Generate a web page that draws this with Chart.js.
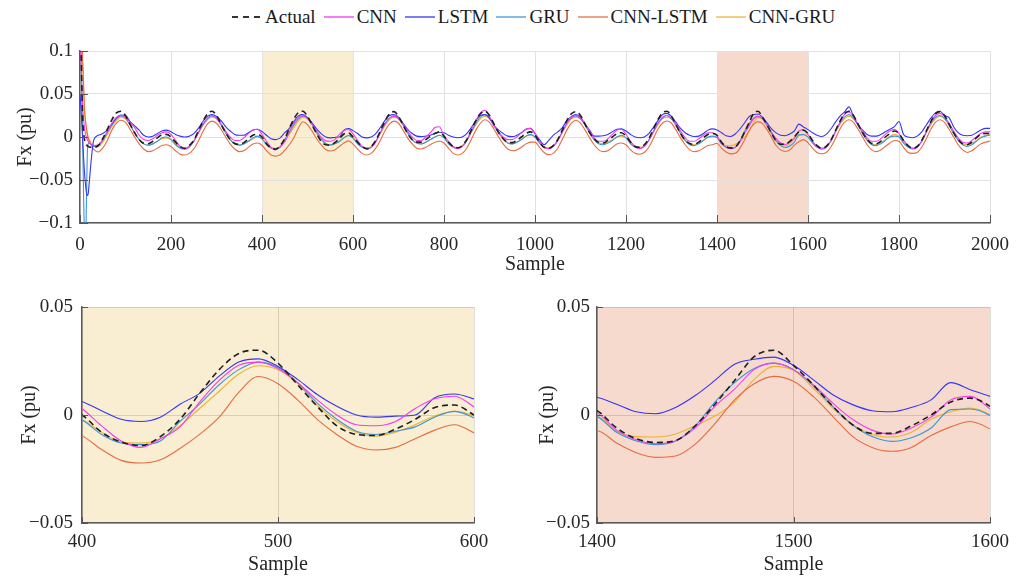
<!DOCTYPE html>
<html lang="en">
<head>
<meta charset="UTF-8">
<title>Fx prediction comparison</title>
<script src="https://cdn.jsdelivr.net/npm/chart.js"></script>
<style>
  body { margin: 0; background: #fff; font-family: 'Liberation Serif', 'Times New Roman', serif; }
  #page { position: relative; width: 1022px; height: 579px; overflow: hidden; }
  .box { position: absolute; }
  #legend { position: absolute; top: 6px; left: 232px; display: flex; align-items: center; font-size: 19px; color: #1a1a1a; white-space: nowrap; }
  .item { display: flex; align-items: center; margin-right: 8px; }
  .swatch { width: 30px; height: 2px; margin-right: 3px; }
</style>
</head>
<body>
<div id="page">
  <div id="legend"></div>
  <div class="box" style="left:0;top:40px;width:1022px;height:245px"><canvas id="topChart"></canvas></div>
  <div class="box" style="left:0;top:290px;width:520px;height:289px"><canvas id="zoomA"></canvas></div>
  <div class="box" style="left:520px;top:290px;width:502px;height:289px"><canvas id="zoomB"></canvas></div>
</div>

<script>
// sample positions (dense at the start transient, then every 10)
const samples = [
  0, 2, 4, 6, 8, 10, 12, 14, 16, 18, 20, 25,
  30, 40, 50, 60, 70, 80, 90, 100, 110, 120, 130, 140, 150, 160, 170, 180, 190,
  200, 210, 220, 230, 240, 250, 260, 270, 280, 290, 300, 310, 320, 330, 340, 350, 360, 370, 380, 390,
  400, 410, 420, 430, 440, 450, 460, 470, 480, 490, 500, 510, 520, 530, 540, 550, 560, 570, 580, 590,
  600, 610, 620, 630, 640, 650, 660, 670, 680, 690, 700, 710, 720, 730, 740, 750, 760, 770, 780, 790,
  800, 810, 820, 830, 840, 850, 860, 870, 880, 890, 900, 910, 920, 930, 940, 950, 960, 970, 980, 990,
  1000, 1010, 1020, 1030, 1040, 1050, 1060, 1070, 1080, 1090, 1100, 1110, 1120, 1130, 1140, 1150, 1160, 1170, 1180, 1190,
  1200, 1210, 1220, 1230, 1240, 1250, 1260, 1270, 1280, 1290, 1300, 1310, 1320, 1330, 1340, 1350, 1360, 1370, 1380, 1390,
  1400, 1410, 1420, 1430, 1440, 1450, 1460, 1470, 1480, 1490, 1500, 1510, 1520, 1530, 1540, 1550, 1560, 1570, 1580, 1590,
  1600, 1610, 1620, 1630, 1640, 1650, 1660, 1670, 1680, 1690, 1700, 1710, 1720, 1730, 1740, 1750, 1760, 1770, 1780, 1790,
  1800, 1810, 1820, 1830, 1840, 1850, 1860, 1870, 1880, 1890, 1900, 1910, 1920, 1930, 1940, 1950, 1960, 1970, 1980, 1990,
  2000
];

const actual = [
  0.20, 0.12, 0.06, 0.02, 0.005, -0.003, -0.007, -0.009, -0.010, -0.011, -0.0115, -0.012,
  -0.012, -0.010, -0.002, 0.009, 0.020, 0.028, 0.030, 0.025, 0.015, 0.005, -0.003, -0.0072, -0.0078, -0.005, -0.001, 0.0025, 0.003,
  0.000, -0.006, -0.011, -0.0132, -0.010, -0.004, 0.007, 0.018, 0.027, 0.030, 0.025, 0.015, 0.005, -0.003, -0.0075, -0.0085, -0.0065, -0.002, 0.002, 0.003,
  0.000, -0.008, -0.0125, -0.0142, -0.010, -0.002, 0.010, 0.021, 0.0285, 0.030, 0.024, 0.014, 0.004, -0.005, -0.009, -0.0095, -0.0065, -0.002, 0.0035, 0.0046,
  0.000, -0.006, -0.011, -0.0135, -0.011, -0.004, 0.007, 0.018, 0.027, 0.0295, 0.024, 0.014, 0.004, -0.003, -0.006, -0.006, -0.003, 0.001, 0.004, 0.006,
  0.001, -0.006, -0.011, -0.0125, -0.010, -0.003, 0.008, 0.019, 0.027, 0.030, 0.025, 0.015, 0.005, -0.002, -0.006, -0.0065, -0.004, 0.000, 0.004, 0.006,
  0.002, -0.006, -0.012, -0.013, -0.010, -0.003, 0.008, 0.019, 0.027, 0.0295, 0.025, 0.015, 0.005, -0.002, -0.0065, -0.007, -0.004, 0.000, 0.004, 0.005,
  0.001, -0.006, -0.011, -0.012, -0.009, -0.002, 0.009, 0.020, 0.028, 0.030, 0.024, 0.014, 0.004, -0.004, -0.0075, -0.0085, -0.006, -0.001, 0.003, 0.004,
  0.002, -0.006, -0.011, -0.0127, -0.0118, -0.005, 0.005, 0.016, 0.027, 0.030, 0.023, 0.014, 0.004, -0.0045, -0.0085, -0.0085, -0.005, 0.000, 0.006, 0.0078,
  0.004, -0.004, -0.010, -0.013, -0.011, -0.004, 0.007, 0.018, 0.027, 0.030, 0.025, 0.015, 0.005, -0.003, -0.0075, -0.008, -0.005, 0.000, 0.004, 0.007,
  0.004, -0.004, -0.010, -0.013, -0.011, -0.004, 0.007, 0.018, 0.027, 0.0295, 0.025, 0.015, 0.005, -0.003, -0.008, -0.009, -0.006, -0.001, 0.003, 0.004,
  0.004
];

const cnn = [
  0.12, 0.09, 0.06, 0.035, 0.02, 0.01, 0.004, 0.000, -0.003, -0.005, -0.007, -0.009,
  -0.010, -0.009, -0.003, 0.006, 0.016, 0.023, 0.025, 0.023, 0.017, 0.011, 0.002, -0.003, -0.004, -0.002, 0.002, 0.005, 0.006,
  0.003, -0.004, -0.011, -0.014, -0.011, -0.005, 0.005, 0.015, 0.022, 0.025, 0.022, 0.015, 0.007, 0.000, -0.004, -0.004, -0.001, 0.004, 0.008, 0.009,
  0.003, -0.005, -0.012, -0.015, -0.011, -0.0055, 0.006, 0.016, 0.023, 0.0245, 0.0215, 0.015, 0.007, 0.000, -0.0045, -0.005, -0.003, 0.003, 0.0075, 0.0087,
  0.0037, -0.004, -0.011, -0.014, -0.012, -0.006, 0.005, 0.015, 0.022, 0.024, 0.022, 0.015, 0.007, 0.000, -0.004, -0.004, 0.000, 0.005, 0.011, 0.012,
  0.001, -0.005, -0.011, -0.0135, -0.011, -0.004, 0.008, 0.019, 0.028, 0.031, 0.024, 0.013, 0.006, 0.000, -0.003, -0.003, 0.000, 0.005, 0.009, 0.010,
  0.004, -0.005, -0.012, -0.0135, -0.011, -0.004, 0.006, 0.016, 0.023, 0.025, 0.022, 0.015, 0.007, -0.001, -0.005, -0.005, -0.002, 0.003, 0.008, 0.009,
  0.003, -0.005, -0.011, -0.0135, -0.011, -0.004, 0.006, 0.016, 0.023, 0.025, 0.022, 0.015, 0.007, -0.001, -0.005, -0.005, -0.002, 0.002, 0.005, 0.005,
  0.0012, -0.007, -0.0115, -0.0133, -0.012, -0.006, 0.004, 0.012, 0.021, 0.024, 0.021, 0.014, 0.0055, -0.002, -0.007, -0.0088, -0.006, -0.001, 0.007, 0.0086,
  0.0028, -0.005, -0.011, -0.014, -0.012, -0.005, 0.006, 0.017, 0.026, 0.029, 0.024, 0.015, 0.007, -0.001, -0.005, -0.005, -0.002, 0.003, 0.007, 0.009,
  0.004, -0.004, -0.010, -0.0135, -0.012, -0.005, 0.006, 0.017, 0.025, 0.0275, 0.024, 0.016, 0.007, -0.001, -0.006, -0.007, -0.004, 0.000, 0.004, 0.006,
  0.006
];

const lstm = [
  0.05, 0.035, 0.015, -0.005, -0.025, -0.042, -0.055, -0.064, -0.068, -0.066, -0.055, -0.025,
  -0.004, 0.002, 0.004, 0.008, 0.015, 0.022, 0.0256, 0.025, 0.018, 0.013, 0.008, 0.002, 0.000, 0.001, 0.004, 0.007, 0.008,
  0.006, 0.003, 0.001, 0.000, 0.001, 0.004, 0.010, 0.018, 0.024, 0.026, 0.024, 0.019, 0.012, 0.007, 0.003, 0.002, 0.002, 0.005, 0.008, 0.009,
  0.0063, 0.002, -0.002, -0.003, -0.001, 0.005, 0.010, 0.018, 0.0245, 0.026, 0.0225, 0.0165, 0.0095, 0.004, 0.000, -0.001, -0.0005, 0.000, 0.008, 0.0097,
  0.0074, 0.004, 0.000, -0.001, 0.000, 0.004, 0.011, 0.019, 0.025, 0.026, 0.023, 0.016, 0.009, 0.004, 0.001, 0.0004, 0.001, 0.002, 0.004, 0.0055,
  0.005, 0.002, 0.000, -0.0008, 0.000, 0.004, 0.011, 0.019, 0.025, 0.026, 0.022, 0.013, 0.008, 0.004, 0.001, 0.0004, 0.002, 0.005, 0.009, 0.010,
  0.004, -0.003, -0.009, -0.004, 0.002, 0.006, 0.011, 0.019, 0.024, 0.026, 0.023, 0.015, 0.008, 0.001, 0.001, 0.0015, 0.003, 0.006, 0.009, 0.0095,
  0.007, 0.003, 0.000, -0.0008, 0.000, 0.004, 0.011, 0.019, 0.026, 0.0275, 0.024, 0.017, 0.010, 0.005, 0.002, 0.0005, 0.001, 0.004, 0.008, 0.0095,
  0.0082, 0.005, 0.0015, 0.0006, 0.0035, 0.009, 0.016, 0.0235, 0.0258, 0.0268, 0.023, 0.0164, 0.0094, 0.0048, 0.002, 0.0015, 0.0035, 0.007, 0.015, 0.0117,
  0.0086, 0.005, 0.002, 0.0005, 0.003, 0.009, 0.017, 0.024, 0.029, 0.035, 0.024, 0.014, 0.008, 0.003, 0.001, 0.001, 0.003, 0.006, 0.009, 0.012,
  0.018, 0.003, 0.000, -0.0008, 0.001, 0.006, 0.014, 0.022, 0.028, 0.030, 0.025, 0.0225, 0.012, 0.005, 0.002, 0.0015, 0.002, 0.005, 0.008, 0.010,
  0.010
];

const gru = [
  0.14, 0.10, 0.05, -0.01, -0.07, -0.12, -0.13, -0.08, -0.02, -0.008, -0.007, -0.009,
  -0.011, -0.010, -0.004, 0.005, 0.014, 0.021, 0.0245, 0.022, 0.014, 0.005, -0.003, -0.008, -0.0095, -0.008, -0.005, -0.001, 0.000,
  -0.003, -0.009, -0.013, -0.014, -0.012, -0.005, 0.005, 0.014, 0.021, 0.0245, 0.022, 0.014, 0.005, -0.003, -0.008, -0.0095, -0.008, -0.005, -0.001, 0.001,
  -0.0022, -0.009, -0.013, -0.0137, -0.012, -0.003, 0.005, 0.014, 0.021, 0.0245, 0.022, 0.015, 0.0055, -0.002, -0.0075, -0.009, -0.0075, -0.0055, -0.001, 0.0017,
  -0.0014, -0.008, -0.012, -0.014, -0.012, -0.005, 0.005, 0.015, 0.022, 0.0245, 0.021, 0.014, 0.005, -0.003, -0.007, -0.008, -0.006, -0.003, 0.000, 0.002,
  -0.001, -0.008, -0.012, -0.0135, -0.011, -0.004, 0.006, 0.016, 0.023, 0.026, 0.022, 0.014, 0.005, -0.002, -0.007, -0.008, -0.006, -0.003, 0.001, 0.003,
  0.000, -0.007, -0.012, -0.0135, -0.011, -0.004, 0.006, 0.016, 0.022, 0.0245, 0.021, 0.014, 0.005, -0.003, -0.008, -0.009, -0.007, -0.004, 0.000, 0.002,
  -0.001, -0.008, -0.012, -0.013, -0.011, -0.004, 0.006, 0.016, 0.022, 0.025, 0.021, 0.014, 0.004, -0.004, -0.009, -0.010, -0.008, -0.004, 0.000, 0.001,
  -0.0006, -0.008, -0.012, -0.0137, -0.012, -0.005, 0.006, 0.015, 0.0215, 0.024, 0.021, 0.0136, 0.004, -0.0045, -0.010, -0.0122, -0.0105, -0.006, 0.0025, 0.0028,
  -0.0002, -0.007, -0.012, -0.014, -0.012, -0.005, 0.006, 0.016, 0.023, 0.026, 0.022, 0.014, 0.004, -0.004, -0.009, -0.010, -0.008, -0.004, 0.000, 0.001,
  0.000, -0.007, -0.012, -0.014, -0.012, -0.005, 0.006, 0.016, 0.023, 0.025, 0.022, 0.014, 0.004, -0.004, -0.009, -0.011, -0.009, -0.005, -0.001, 0.001,
  0.002
];

const cnnLstm = [
  0.16, 0.14, 0.115, 0.09, 0.06, 0.032, 0.02, 0.011, 0.004, -0.001, -0.004, -0.010,
  -0.014, -0.0175, -0.013, -0.004, 0.008, 0.016, 0.0195, 0.017, 0.009, 0.000, -0.008, -0.014, -0.017, -0.016, -0.013, -0.010, -0.009,
  -0.011, -0.016, -0.020, -0.021, -0.019, -0.014, -0.005, 0.006, 0.015, 0.0185, 0.016, 0.009, 0.000, -0.008, -0.014, -0.017, -0.016, -0.012, -0.008, -0.007,
  -0.0096, -0.016, -0.021, -0.0222, -0.0207, -0.0155, -0.009, -0.001, 0.0105, 0.0178, 0.0145, 0.007, -0.002, -0.009, -0.0145, -0.0162, -0.015, -0.011, -0.007, -0.0045,
  -0.0083, -0.014, -0.019, -0.021, -0.019, -0.013, -0.004, 0.007, 0.015, 0.0185, 0.016, 0.008, -0.001, -0.008, -0.013, -0.014, -0.012, -0.009, -0.006, -0.005,
  -0.007, -0.013, -0.019, -0.021, -0.019, -0.013, -0.003, 0.008, 0.016, 0.020, 0.017, 0.009, 0.000, -0.008, -0.014, -0.016, -0.015, -0.012, -0.008, -0.006,
  -0.006, -0.012, -0.018, -0.0205, -0.019, -0.013, -0.003, 0.008, 0.016, 0.0195, 0.016, 0.008, -0.001, -0.009, -0.015, -0.017, -0.016, -0.012, -0.008, -0.007,
  -0.009, -0.015, -0.019, -0.020, -0.018, -0.012, -0.002, 0.009, 0.016, 0.0186, 0.016, 0.008, -0.001, -0.009, -0.015, -0.017, -0.016, -0.013, -0.010, -0.009,
  -0.0073, -0.013, -0.0175, -0.0196, -0.019, -0.0135, -0.004, 0.007, 0.0145, 0.0179, 0.0156, 0.0086, -0.0006, -0.0099, -0.015, -0.0168, -0.015, -0.0095, -0.0055, -0.003,
  -0.0065, -0.013, -0.018, -0.0195, -0.018, -0.012, -0.002, 0.009, 0.017, 0.020, 0.017, 0.009, 0.000, -0.009, -0.015, -0.017, -0.015, -0.011, -0.007, -0.004,
  -0.005, -0.012, -0.018, -0.019, -0.018, -0.012, -0.002, 0.009, 0.017, 0.020, 0.017, 0.009, 0.000, -0.009, -0.015, -0.018, -0.016, -0.012, -0.008, -0.006,
  -0.0047
];

const cnnGru = [
  0.14, 0.12, 0.10, 0.08, 0.055, 0.03, 0.018, 0.010, 0.004, 0.000, -0.003, -0.007,
  -0.0095, -0.011, -0.006, 0.003, 0.012, 0.019, 0.023, 0.021, 0.014, 0.005, -0.003, -0.008, -0.0095, -0.008, -0.005, -0.002, -0.001,
  -0.003, -0.008, -0.012, -0.013, -0.011, -0.005, 0.004, 0.013, 0.020, 0.023, 0.021, 0.014, 0.005, -0.003, -0.008, -0.0095, -0.008, -0.005, -0.002, 0.000,
  -0.0022, -0.008, -0.0125, -0.013, -0.011, -0.005, 0.003, 0.011, 0.019, 0.0228, 0.021, 0.0145, 0.0045, -0.003, -0.008, -0.0098, -0.008, -0.0045, -0.0005, 0.0017,
  -0.0006, -0.007, -0.011, -0.013, -0.011, -0.005, 0.004, 0.013, 0.020, 0.023, 0.021, 0.014, 0.005, -0.003, -0.007, -0.008, -0.006, -0.003, 0.000, 0.002,
  -0.001, -0.007, -0.011, -0.0125, -0.010, -0.004, 0.005, 0.014, 0.021, 0.024, 0.021, 0.014, 0.005, -0.002, -0.007, -0.008, -0.006, -0.003, 0.001, 0.002,
  0.000, -0.007, -0.011, -0.0125, -0.010, -0.004, 0.005, 0.014, 0.021, 0.023, 0.021, 0.014, 0.005, -0.003, -0.007, -0.008, -0.006, -0.003, 0.000, 0.001,
  -0.001, -0.007, -0.011, -0.012, -0.010, -0.004, 0.005, 0.014, 0.021, 0.023, 0.021, 0.013, 0.004, -0.004, -0.008, -0.009, -0.007, -0.004, -0.001, 0.000,
  -0.0006, -0.0075, -0.010, -0.0102, -0.0088, -0.005, -0.0005, 0.006, 0.0165, 0.0225, 0.0207, 0.0125, 0.0032, -0.0045, -0.009, -0.0102, -0.008, -0.002, 0.0015, 0.0032,
  0.0002, -0.006, -0.011, -0.0125, -0.011, -0.005, 0.005, 0.014, 0.021, 0.024, 0.021, 0.014, 0.005, -0.003, -0.008, -0.009, -0.007, -0.003, 0.001, 0.003,
  0.001, -0.006, -0.011, -0.0125, -0.011, -0.005, 0.005, 0.014, 0.021, 0.024, 0.021, 0.014, 0.005, -0.003, -0.008, -0.009, -0.007, -0.004, 0.000, 0.002,
  0.003
];

const seriesNames = ['Actual', 'CNN', 'LSTM', 'GRU', 'CNN-LSTM', 'CNN-GRU'];
const seriesValues = [actual, cnn, lstm, gru, cnnLstm, cnnGru];
const seriesColors = ['#1e1e1e', '#f23cf2', '#3535f5', '#3c96d8', '#e66c42', '#ecb32e'];
const legendColors = ['#333333', '#f77df7', '#7d7df7', '#86bde6', '#f0a284', '#f3d080'];

// highlighted windows and their tint
const windows = [[400, 600], [1400, 1600]];
const windowColors = ['#f9edd2', '#f6dacd'];

seriesValues.forEach((v, i) => {
  if (v.length !== samples.length) throw new Error(seriesNames[i] + ' has ' + v.length + ' values, expected ' + samples.length);
});

Chart.defaults.font.family = "'Liberation Serif', 'Times New Roman', serif";
Chart.defaults.color = '#262626';

// legend (html)
const legend = document.getElementById('legend');
seriesNames.forEach((name, i) => {
  const item = document.createElement('div');
  item.className = 'item';
  const sw = document.createElement('span');
  sw.className = 'swatch';
  if (i === 0) {
    sw.style.background = 'repeating-linear-gradient(to right, #333 0 6px, transparent 6px 11px)';
  } else {
    sw.style.background = legendColors[i];
  }
  item.appendChild(sw);
  item.appendChild(document.createTextNode(name));
  legend.appendChild(item);
});

// tinted windows, drawn under the grid
const bandPlugin = {
  id: 'bands',
  beforeDraw(chart, args, opts) {
    const { ctx, chartArea: a, scales: { x } } = chart;
    (opts.list || []).forEach(b => {
      const x0 = Math.max(a.left, x.getPixelForValue(b.from));
      const x1 = Math.min(a.right, x.getPixelForValue(b.to));
      if (x1 <= x0) return;
      ctx.save();
      ctx.fillStyle = b.color;
      ctx.fillRect(x0, a.top, x1 - x0, a.bottom - a.top);
      ctx.restore();
    });
  }
};

// inward tick marks like matlab
const tickPlugin = {
  id: 'inTicks',
  afterDraw(chart, args, opts) {
    const { ctx, chartArea: a, scales: { x, y } } = chart;
    const len = opts.len || 7;
    ctx.save();
    ctx.strokeStyle = '#555';
    ctx.lineWidth = 1;
    ctx.beginPath();
    x.ticks.forEach(t => {
      const px = Math.round(x.getPixelForValue(t.value)) + 0.5;
      ctx.moveTo(px, a.bottom);
      ctx.lineTo(px, a.bottom - len);
    });
    y.ticks.forEach(t => {
      const py = Math.round(y.getPixelForValue(t.value)) + 0.5;
      ctx.moveTo(a.left, py);
      ctx.lineTo(a.left + len, py);
    });
    ctx.stroke();
    ctx.restore();
  }
};

function makeDatasets(width) {
  return seriesNames.map((name, i) => ({
    label: name,
    data: samples.map((s, k) => ({ x: s, y: seriesValues[i][k] })),
    borderColor: seriesColors[i],
    borderWidth: i === 0 ? 1.6 : width,
    borderDash: i === 0 ? [6, 4] : [],
    pointRadius: 0,
    fill: false,
    cubicInterpolationMode: 'monotone'
  }));
}

function fmtY(v) {
  const r = Math.round(v * 1000) / 1000;
  if (r === 0) return '0';
  return r < 0 ? '\u2212' + Math.abs(r) : String(r);
}

function makeChart(id, cfg) {
  return new Chart(document.getElementById(id), {
    type: 'line',
    data: { datasets: makeDatasets(cfg.lineWidth) },
    plugins: [bandPlugin, tickPlugin],
    options: {
      responsive: true,
      maintainAspectRatio: false,
      animation: false,
      layout: { padding: cfg.padding },
      plugins: {
        legend: { display: false },
        tooltip: { enabled: false },
        bands: { list: cfg.bands },
        inTicks: { len: cfg.tickLen }
      },
      scales: {
        x: {
          type: 'linear',
          min: cfg.xMin,
          max: cfg.xMax,
          ticks: {
            stepSize: cfg.xStep,
            autoSkip: false,
            maxRotation: 0,
            padding: cfg.xTickPad,
            font: { size: 19 },
            callback: v => String(v)
          },
          grid: { color: cfg.gridColor, drawTicks: false },
          border: { color: '#5a5a5a', width: 1.5 },
          title: { display: true, text: 'Sample', font: { size: 20 }, padding: { top: 0, bottom: cfg.xTitlePad } },
          afterFit(s) { s.height = cfg.xHeight; s.paddingLeft = 0; s.paddingRight = 0; }
        },
        y: {
          min: cfg.yMin,
          max: cfg.yMax,
          ticks: {
            stepSize: cfg.yStep,
            padding: cfg.yTickPad,
            font: { size: 19 },
            callback: v => fmtY(v)
          },
          grid: { color: cfg.gridColor, drawTicks: false },
          border: { color: '#5a5a5a', width: 1.5 },
          title: { display: true, text: 'Fx (pu)', font: { size: 20 }, padding: { top: cfg.yTitlePad, bottom: 0 } },
          afterFit(s) { s.width = cfg.yWidth; s.paddingTop = 0; s.paddingBottom = 0; }
        }
      }
    }
  });
}

makeChart('topChart', {
  lineWidth: 1.1,
  padding: { top: 11, right: 32, left: 0, bottom: 0 },
  bands: windows.map((w, i) => ({ from: w[0], to: w[1], color: windowColors[i] })),
  tickLen: 8,
  xMin: 0, xMax: 2000, xStep: 200,
  yMin: -0.1, yMax: 0.1, yStep: 0.05,
  gridColor: '#e2e2e2',
  xTickPad: 11, xTitlePad: 8, xHeight: 62,
  yTickPad: 7, yTitlePad: 14, yWidth: 80
});

makeChart('zoomA', {
  lineWidth: 1.1,
  padding: { top: 17, right: 46, left: 0, bottom: 0 },
  bands: [{ from: windows[0][0], to: windows[0][1], color: windowColors[0] }],
  tickLen: 6,
  xMin: windows[0][0], xMax: windows[0][1], xStep: 100,
  yMin: -0.05, yMax: 0.05, yStep: 0.05,
  gridColor: 'rgba(0,0,0,0.13)',
  xTickPad: 8, xTitlePad: 2, xHeight: 56,
  yTickPad: 9, yTitlePad: 18, yWidth: 82
});

makeChart('zoomB', {
  lineWidth: 1.1,
  padding: { top: 17, right: 32, left: 0, bottom: 0 },
  bands: [{ from: windows[1][0], to: windows[1][1], color: windowColors[1] }],
  tickLen: 6,
  xMin: windows[1][0], xMax: windows[1][1], xStep: 100,
  yMin: -0.05, yMax: 0.05, yStep: 0.05,
  gridColor: 'rgba(0,0,0,0.13)',
  xTickPad: 8, xTitlePad: 2, xHeight: 56,
  yTickPad: 7, yTitlePad: 16, yWidth: 77
});
</script>
</body>
</html>
